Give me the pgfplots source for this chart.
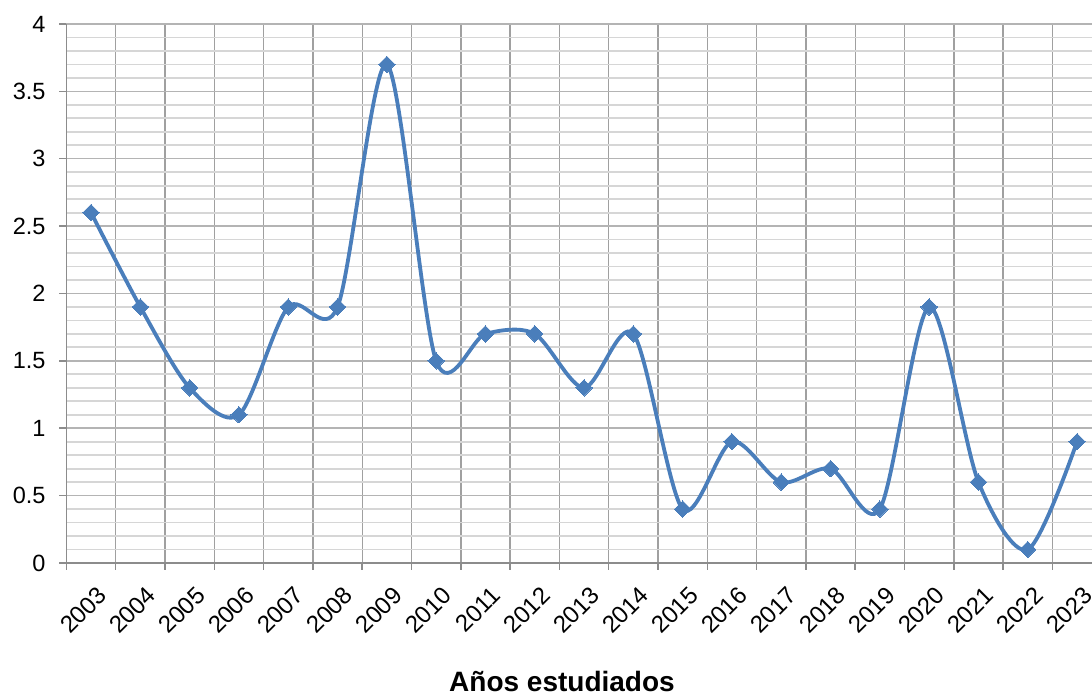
\documentclass[border=0pt]{standalone}
\usepackage{pgfplots}
\pgfplotsset{compat=1.18}
\usepackage{fontspec}
\setmainfont{Liberation Sans}
\definecolor{lineblue}{HTML}{4A7EBB}
\definecolor{vgrid}{HTML}{A0A0A0}
\definecolor{hmajor}{HTML}{B4B4B4}
\definecolor{hminor}{HTML}{D6D6D6}
\definecolor{axgray}{HTML}{8C8C8C}
\begin{document}
\begin{tikzpicture}
\begin{axis}[
  scale only axis,
  width=1035.3pt, height=539pt,
  xmin=-0.5, xmax=20.5, ymin=0, ymax=4,
  axis x line*=bottom, axis y line*=left,
  axis line style={-, draw=axgray, line width=1.5pt},
  tick align=outside,
  major tick length=7pt,
  minor tick length=0pt,
  tick style={draw=axgray, line width=1.5pt},
  xtick={-0.5,0.5,...,20.5},
  xticklabels={},
  xmajorgrids,
  major x grid style={draw=vgrid, line width=1.4pt},
  extra x ticks={0,1,...,20},
  extra x tick labels={2003,2004,2005,2006,2007,2008,2009,2010,2011,2012,2013,2014,2015,2016,2017,2018,2019,2020,2021,2022,2023},
  extra x tick style={grid=none, major tick length=0pt,
    xticklabel style={font=\fontsize{24}{26}\selectfont, xshift=5pt, yshift=-22pt, rotate=45, anchor=north east, inner sep=0pt}},
  ytick={0,0.5,...,4},
  minor y tick num=4,
  ymajorgrids, yminorgrids,
  major y grid style={draw=hmajor, line width=1.5pt},
  minor y grid style={draw=hminor, line width=1.8pt},
  yticklabel style={font=\fontsize{23.5}{25}\selectfont, anchor=east, inner sep=0pt, xshift=-13.7pt},
  /pgf/number format/assume math mode=true,
  clip=false,
]
\addplot[color=lineblue, line width=3.8pt, smooth, mark=square*, mark size=5.8pt,
  mark options={rotate=45, solid, line width=0pt, fill=lineblue}]
coordinates {
(0,2.6) (1,1.9) (2,1.3) (3,1.1) (4,1.9) (5,1.9) (6,3.7) (7,1.5) (8,1.7) (9,1.7)
(10,1.3) (11,1.7) (12,0.4) (13,0.9) (14,0.6) (15,0.7) (16,0.4) (17,1.9) (18,0.6) (19,0.1) (20,0.9)
};
\end{axis}
\node[anchor=base, font=\bfseries\fontsize{28}{30}\selectfont] at (495.6pt,-128.5pt) {Años estudiados};
\pgfresetboundingbox
\path[use as bounding box] (-66.4pt,-129pt) rectangle (1025.6pt,563pt);
\end{tikzpicture}
\end{document}
